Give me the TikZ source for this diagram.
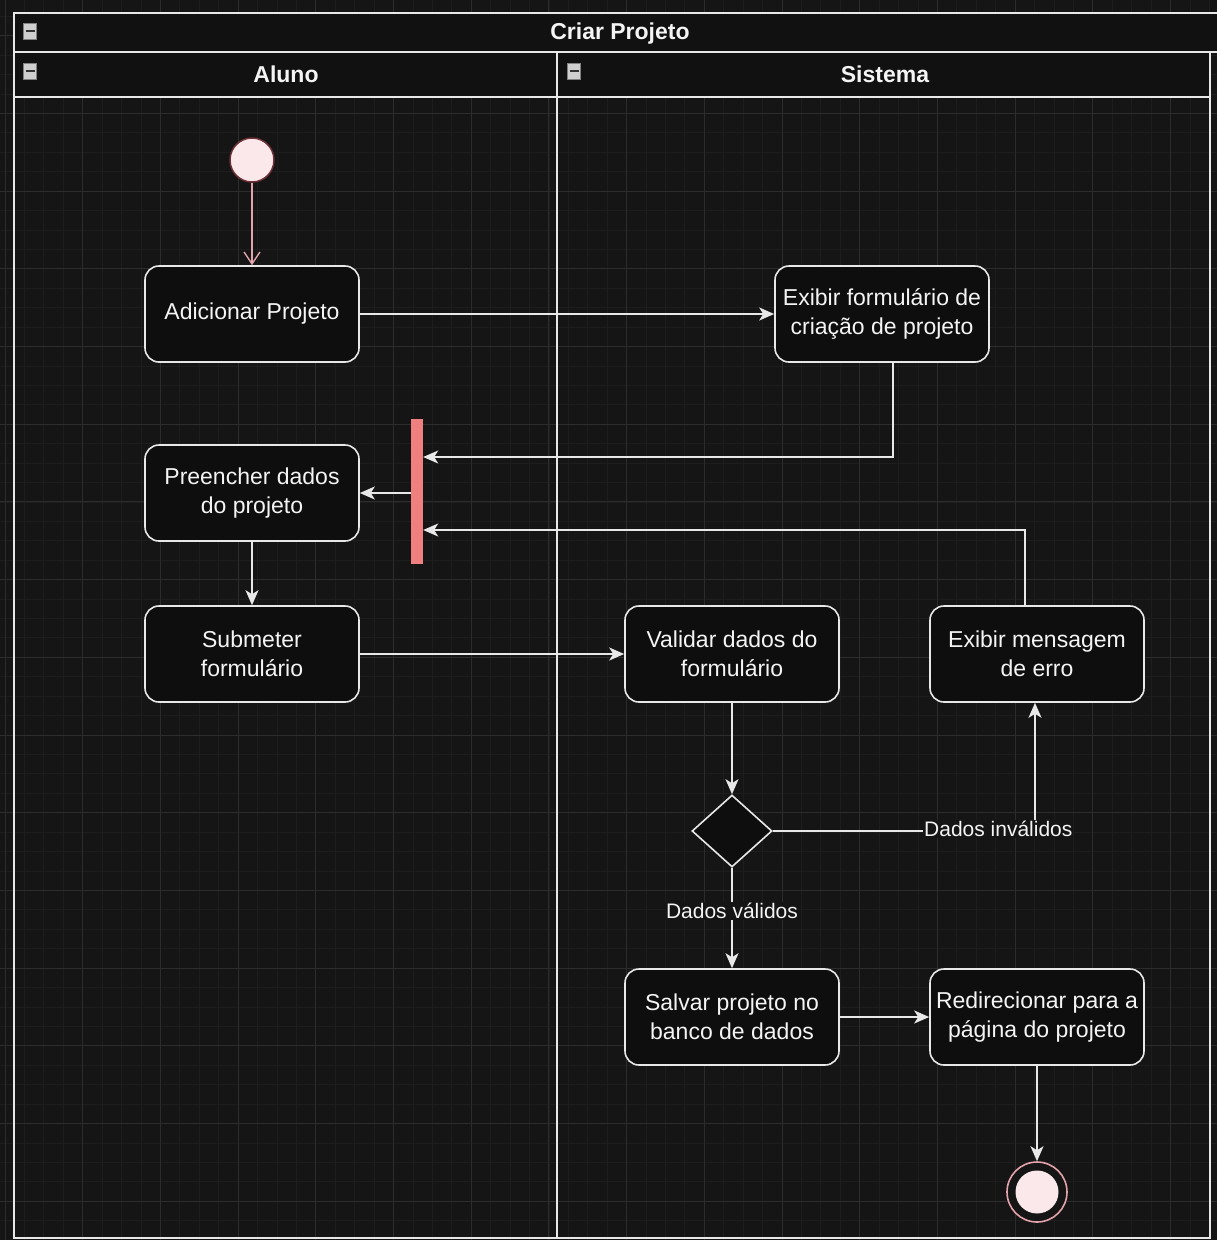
\documentclass[tikz,border=0pt]{standalone}
\usepackage{fontspec}
\setmainfont{Liberation Sans}
\usetikzlibrary{arrows.meta,shapes.geometric}
\definecolor{bgc}{HTML}{151515}
\definecolor{minorc}{HTML}{1D1D1D}
\definecolor{majorc}{HTML}{2C2C2C}
\definecolor{hdrc}{HTML}{111111}
\definecolor{nodec}{HTML}{0E0E0E}
\definecolor{linec}{HTML}{E8E8E8}
\definecolor{txtc}{HTML}{F4F4F4}
\definecolor{forkc}{HTML}{F08080}
\definecolor{startfill}{HTML}{FBE8EA}
\definecolor{startborder}{HTML}{6E3036}
\definecolor{pinkline}{HTML}{E2A3AA}
\definecolor{iconc}{HTML}{CFCFCF}
\begin{document}
\begin{tikzpicture}[x=1pt,y=-1pt,
  act/.style={draw=linec, fill=nodec, line width=1.6pt, rounded corners=14pt,
    minimum width=214pt, minimum height=96pt, align=center, text=txtc,
    font=\fontsize{23}{29}\selectfont, inner sep=2pt},
  arr/.style={draw=linec, line width=1.6pt, -{Stealth[length=15pt,width=13pt,inset=4pt]}},
  startarr/.style={draw=pinkline, line width=1.4pt, -{Straight Barb[length=12pt,width=16pt]}},
  elabel/.style={fill=bgc, text=txtc, font=\fontsize{21}{25}\selectfont, inner sep=1pt},
  hdrtext/.style={text=txtc, font=\bfseries\fontsize{23}{28}\selectfont},
  lanebox/.style={draw=linec, line width=1.6pt},
  iconbox/.style={fill=iconc, draw=gray, line width=0.5pt, minimum width=13pt, minimum height=16pt, inner sep=0pt}
]
\useasboundingbox (0,0) rectangle (1217,1240);
\fill[bgc] (0,0) rectangle (1217,1240);
% grid
\foreach \i in {-4,...,64} {
  \draw[minorc, line width=0.8pt] ({5+\i*19.425},0) -- ({5+\i*19.425},1240);
  \draw[minorc, line width=0.8pt] (0,{35.7+\i*19.425}) -- (1217,{35.7+\i*19.425});
}
\foreach \i in {-1,...,16} {
  \draw[majorc, line width=1pt] ({5+\i*77.7},0) -- ({5+\i*77.7},1240);
  \draw[majorc, line width=1pt] (0,{35.7+\i*77.7}) -- (1217,{35.7+\i*77.7});
}
% pool and lanes
\filldraw[lanebox, fill=hdrc] (14,13) rectangle (1232,52);
\filldraw[lanebox, fill=hdrc] (14,52) rectangle (557,97);
\filldraw[lanebox, fill=hdrc] (557,52) rectangle (1210,97);
\draw[lanebox] (14,97) -- (14,1238) -- (1210,1238) -- (1210,97);
\draw[lanebox] (557,97) -- (557,1238);
\node[hdrtext] (title) at (620,33.5) {Criar Projeto};
\node[hdrtext] (aluno) at (286,74.5) {Aluno};
\node[hdrtext] (sistema) at (885,74.5) {Sistema};
\node[iconbox] (ic1) at (30,31) {};
\node[iconbox] (ic2) at (30,71) {};
\node[iconbox] (ic3) at (574,71) {};
\foreach \ic in {ic1,ic2,ic3} {
  \draw[black!80, line width=2.4pt] ([xshift=-4.5pt]\ic.center) -- ([xshift=4.5pt]\ic.center);
}
% nodes
\node[circle, fill=startfill, draw=startborder, line width=1.5pt, minimum size=44pt, inner sep=0pt] (start) at (252,160) {};
\node[act] (add) at (252,314) {Adicionar Projeto};
\node[act] (exib) at (882,314) {Exibir formulário de\\criação de projeto};
\node[act] (preen) at (252,493) {Preencher dados\\do projeto};
\node[fill=forkc, minimum width=12pt, minimum height=145pt, inner sep=0pt] (fork) at (417,491.5) {};
\node[act] (subm) at (252,654) {Submeter\\formulário};
\node[act] (valid) at (732,654) {Validar dados do\\formulário};
\node[act] (erro) at (1037,654) {Exibir mensagem\\de erro};
\node[diamond, draw=linec, fill=nodec, line width=1.6pt, minimum width=80pt, minimum height=72pt, aspect=1.11, inner sep=0pt] (dec) at (732,831) {};
\node[act] (salvar) at (732,1017) {Salvar projeto no\\banco de dados};
\node[act] (redir) at (1037,1017) {Redirecionar para a\\página do projeto};
\node[circle, draw=pinkline, fill=bgc, line width=1.6pt, minimum size=60pt, inner sep=0pt] (end) at (1037,1192) {};
\fill[startfill] (end.center) circle (21.5pt);
% edges
\draw[startarr] (start) -- (add);
\draw[arr] (add) -- (exib);
\draw[arr] ([xshift=11pt]exib.south) |- ([yshift=34.5pt]fork.east);
\draw[arr] ([xshift=-12pt]erro.north) |- ([yshift=-38.5pt]fork.east);
\draw[arr] (fork.west |- preen.east) -- (preen.east);
\draw[arr] (preen) -- (subm);
\draw[arr] (subm) -- (valid);
\draw[arr] (valid) -- (dec);
\draw[arr] (dec.east) -| node[elabel, pos=0.43, yshift=2pt] {Dados inválidos} ([xshift=-2pt]erro.south);
\draw[arr] (dec.south) -- node[elabel, pos=0.43] {Dados válidos} (salvar.north);
\draw[arr] (salvar) -- (redir);
\draw[arr] (redir) -- (end);
\end{tikzpicture}
\end{document}
